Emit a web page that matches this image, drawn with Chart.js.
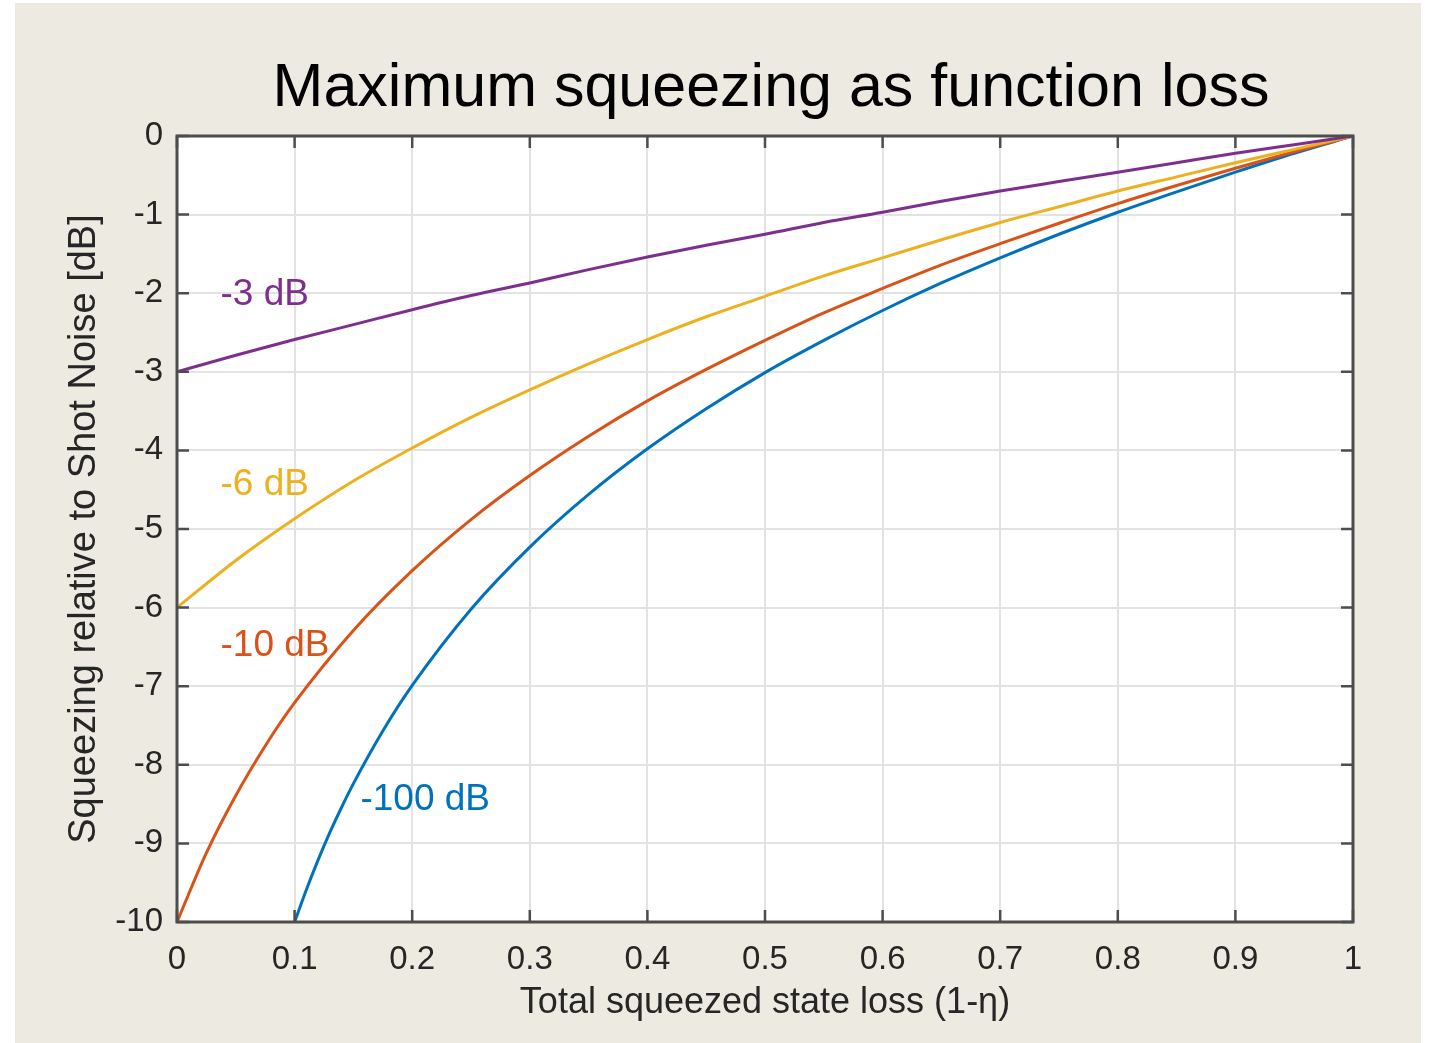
<!DOCTYPE html>
<html>
<head>
<meta charset="utf-8">
<script src="https://cdn.jsdelivr.net/npm/chart.js@4.4.1/dist/chart.umd.min.js"></script>
<style>
  html, body { margin: 0; padding: 0; background: #ffffff; }
  #wrap { position: relative; width: 1433px; height: 1043px; }
</style>
</head>
<body>
<div id="wrap"><canvas id="lossChart" width="1433" height="1043"></canvas></div>
<script>
// Values
const titleText = "Maximum squeezing as function loss";
const xTicks = [0, 0.1, 0.2, 0.3, 0.4, 0.5, 0.6, 0.7, 0.8, 0.9, 1];
const yTicks = [0, -1, -2, -3, -4, -5, -6, -7, -8, -9, -10];

const lossA = [0, 0.05, 0.1, 0.15, 0.2, 0.25, 0.3, 0.35, 0.4, 0.45, 0.5, 0.55, 0.6, 0.65, 0.7, 0.75, 0.8, 0.85, 0.9, 0.95, 1];
const sq3dB = [-3.0, -2.79, -2.59, -2.40, -2.21, -2.03, -1.87, -1.70, -1.54, -1.39, -1.25, -1.10, -0.97, -0.83, -0.70, -0.58, -0.46, -0.34, -0.22, -0.11, 0];
const sq6dB = [-6.0, -5.40, -4.87, -4.39, -3.97, -3.58, -3.23, -2.90, -2.59, -2.30, -2.04, -1.78, -1.55, -1.32, -1.10, -0.90, -0.70, -0.52, -0.34, -0.17, 0];

const lossB = [0, 0.025, 0.05, 0.075, 0.1, 0.15, 0.2, 0.25, 0.3, 0.35, 0.4, 0.45, 0.5, 0.55, 0.6, 0.65, 0.7, 0.75, 0.8, 0.85, 0.9, 0.95, 1];
const sq10dB = [-10.0, -9.12, -8.39, -7.76, -7.21, -6.29, -5.53, -4.88, -4.32, -3.82, -3.37, -2.97, -2.60, -2.25, -1.94, -1.64, -1.37, -1.11, -0.86, -0.63, -0.41, -0.20, 0];

const lossC = [0.1, 0.11, 0.12, 0.13, 0.14, 0.15, 0.175, 0.2, 0.25, 0.3, 0.35, 0.4, 0.45, 0.5, 0.55, 0.6, 0.65, 0.7, 0.75, 0.8, 0.85, 0.9, 0.95, 1];
const sq100dB = [-10.0, -9.59, -9.21, -8.86, -8.54, -8.24, -7.57, -6.99, -6.02, -5.23, -4.56, -3.98, -3.47, -3.01, -2.60, -2.22, -1.87, -1.55, -1.25, -0.97, -0.71, -0.46, -0.22, 0];

// curve labels: text and anchor in data units
const labelTexts = ["-3 dB", "-6 dB", "-10 dB", "-100 dB"];
const labelX = [0.037, 0.037, 0.037, 0.156];
const labelY = [-2.02, -4.44, -6.48, -8.45];

const colors = ["#7E2F8E", "#EDB120", "#D95319", "#0072BD"];

function pts(xs, ys) {
  return xs.map((x, i) => ({ x: x, y: ys[i] }));
}

const FONT = "'Liberation Sans', Arial, Helvetica, sans-serif";

// Background, white plot area, inward ticks, title, curve labels
const figurePlugin = {
  id: "figurePlugin",
  beforeDraw(chart) {
    const ctx = chart.ctx;
    const a = chart.chartArea;
    ctx.save();
    ctx.fillStyle = "#ffffff";
    ctx.fillRect(0, 0, chart.width, chart.height);
    ctx.fillStyle = "#EDEAE2";
    ctx.fillRect(15, 3, 1406, 1040);
    ctx.fillStyle = "#ffffff";
    ctx.fillRect(a.left, a.top, a.right - a.left, a.bottom - a.top);
    ctx.restore();
  },
  afterDatasetsDraw(chart) {
    const ctx = chart.ctx;
    const a = chart.chartArea;
    const xs = chart.scales.x;
    const ys = chart.scales.y;
    ctx.save();
    // inward ticks on all four sides
    ctx.strokeStyle = "#4d4d4d";
    ctx.lineWidth = 2.5;
    const tl = 12;
    ctx.beginPath();
    xTicks.forEach(v => {
      const px = xs.getPixelForValue(v);
      ctx.moveTo(px, a.bottom); ctx.lineTo(px, a.bottom - tl);
      ctx.moveTo(px, a.top); ctx.lineTo(px, a.top + tl);
    });
    yTicks.forEach(v => {
      const py = ys.getPixelForValue(v);
      ctx.moveTo(a.left, py); ctx.lineTo(a.left + tl, py);
      ctx.moveTo(a.right, py); ctx.lineTo(a.right - tl, py);
    });
    ctx.stroke();
    // box
    ctx.lineWidth = 3;
    ctx.strokeRect(a.left, a.top, a.right - a.left, a.bottom - a.top);
    // curve labels
    ctx.font = "37px " + FONT;
    ctx.textAlign = "left";
    ctx.textBaseline = "middle";
    labelTexts.forEach((t, i) => {
      ctx.fillStyle = colors[i];
      ctx.fillText(t, xs.getPixelForValue(labelX[i]), ys.getPixelForValue(labelY[i]));
    });
    // title
    ctx.fillStyle = "#000000";
    ctx.font = "61px " + FONT;
    ctx.textAlign = "center";
    ctx.textBaseline = "alphabetic";
    ctx.fillText(titleText, 771, 106);
    ctx.restore();
  }
};

const lineStyle = {
  borderWidth: 3,
  pointRadius: 0,
  fill: false,
  cubicInterpolationMode: "monotone",
};

new Chart(document.getElementById("lossChart"), {
  type: "line",
  data: {
    datasets: [
      Object.assign({ label: "-3 dB", data: pts(lossA, sq3dB), borderColor: colors[0] }, lineStyle),
      Object.assign({ label: "-6 dB", data: pts(lossA, sq6dB), borderColor: colors[1] }, lineStyle),
      Object.assign({ label: "-10 dB", data: pts(lossB, sq10dB), borderColor: colors[2] }, lineStyle),
      Object.assign({ label: "-100 dB", data: pts(lossC, sq100dB), borderColor: colors[3] }, lineStyle),
    ],
  },
  options: {
    responsive: false,
    animation: false,
    layout: { padding: { left: 0, top: 136, right: 80, bottom: 0 } },
    plugins: {
      legend: { display: false },
      tooltip: { enabled: false },
      title: { display: false },
    },
    scales: {
      x: {
        type: "linear",
        min: 0,
        max: 1,
        afterBuildTicks: (scale) => { scale.ticks = xTicks.map(v => ({ value: v })); },
        afterFit: (scale) => { scale.height = 121; },
        ticks: {
          color: "#262626",
          font: { size: 33, family: FONT },
          padding: 18,
          maxRotation: 0,
          callback: (v) => String(v),
        },
        grid: { color: "#E3E3E3", lineWidth: 2, drawTicks: false },
        border: { display: false },
        title: {
          display: true,
          text: "Total squeezed state loss (1-η)",
          color: "#262626",
          font: { size: 36, family: FONT },
          padding: { top: 0, bottom: 18 },
        },
      },
      y: {
        type: "linear",
        min: -10,
        max: 0,
        afterBuildTicks: (scale) => { scale.ticks = yTicks.map(v => ({ value: v })); },
        afterFit: (scale) => { scale.width = 177; },
        ticks: {
          color: "#262626",
          font: { size: 33, family: FONT },
          padding: 14,
          callback: (v) => String(v),
        },
        grid: { color: "#E3E3E3", lineWidth: 2, drawTicks: false },
        border: { display: false },
        title: {
          display: true,
          text: "Squeezing relative to Shot Noise [dB]",
          color: "#262626",
          font: { size: 38, family: FONT },
          padding: { top: 62, bottom: 0 },
        },
      },
    },
  },
  plugins: [figurePlugin],
});
</script>
</body>
</html>
